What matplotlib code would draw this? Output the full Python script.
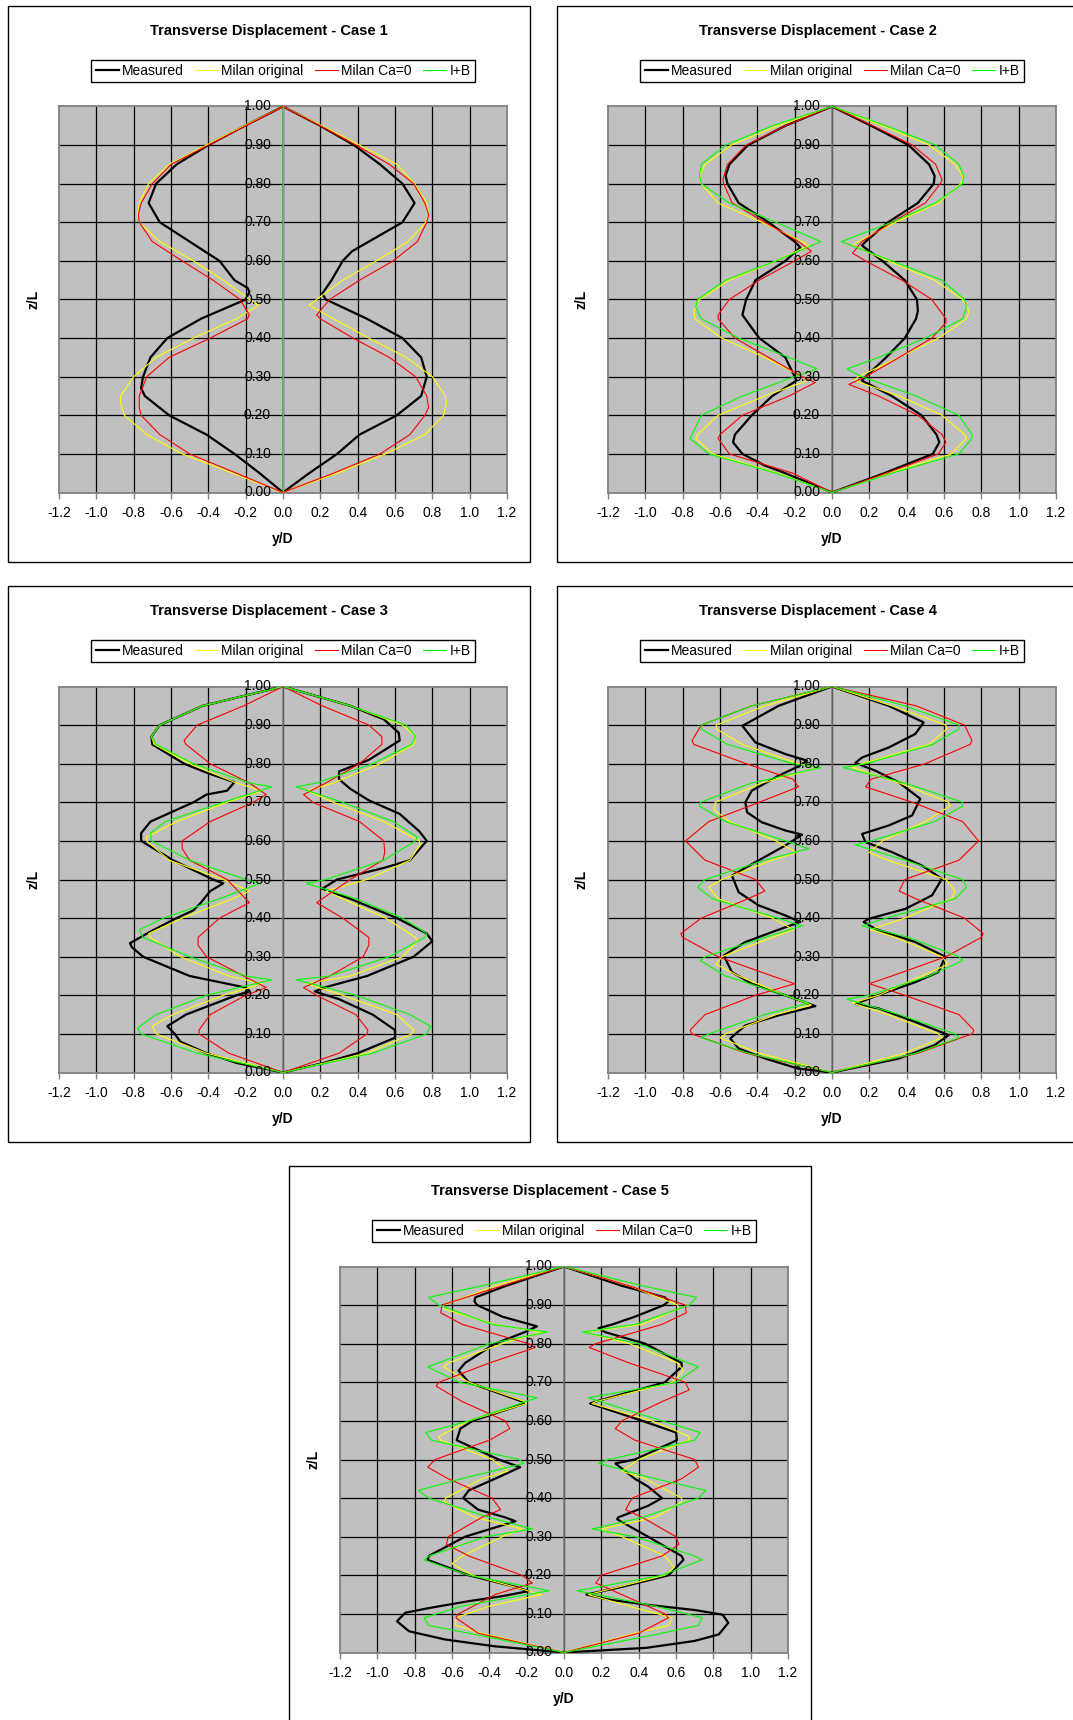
import matplotlib
matplotlib.use('Agg')
import matplotlib.pyplot as plt
import numpy as np
from matplotlib.lines import Line2D
from matplotlib.patches import Rectangle

plt.rcParams['font.family'] = ['Liberation Sans', 'DejaVu Sans']

# ---------------- data: (z/L, y/D) pairs ----------------
SERIES = ["Measured", "Milan original", "Milan Ca=0", "I+B"]
COLORS = ["#000000", "#FFFF00", "#FF0000", "#00FF00"]
XTICKS = [-1.2, -1.0, -0.8, -0.6, -0.4, -0.2, 0.0, 0.2, 0.4, 0.6, 0.8, 1.0, 1.2]
XLABELS = ["-1.2", "-1.0", "-0.8", "-0.6", "-0.4", "-0.2", "0.0", "0.2", "0.4", "0.6", "0.8", "1.0", "1.2"]
YTICKS = [0.0, 0.1, 0.2, 0.3, 0.4, 0.5, 0.6, 0.7, 0.8, 0.9, 1.0]
YLABELS = ["0.00", "0.10", "0.20", "0.30", "0.40", "0.50", "0.60", "0.70", "0.80", "0.90", "1.00"]

# Case 1
C1_MEAS_L = [(0, 0), (0.05, -0.125), (0.10, -0.26), (0.15, -0.41), (0.20, -0.61), (0.25, -0.74), (0.27, -0.76), (0.30, -0.75), (0.35, -0.71), (0.40, -0.62), (0.45, -0.44), (0.50, -0.20), (0.52, -0.18), (0.53, -0.19), (0.55, -0.26), (0.60, -0.34), (0.65, -0.50), (0.70, -0.66), (0.75, -0.72), (0.80, -0.68), (0.85, -0.57), (0.90, -0.40), (0.95, -0.205), (1, 0)]
C1_MEAS_R = [(0, 0), (0.05, 0.14), (0.10, 0.29), (0.15, 0.41), (0.20, 0.61), (0.25, 0.74), (0.30, 0.77), (0.35, 0.74), (0.40, 0.64), (0.45, 0.45), (0.50, 0.23), (0.515, 0.21), (0.55, 0.26), (0.60, 0.32), (0.625, 0.37), (0.65, 0.46), (0.70, 0.64), (0.75, 0.705), (0.80, 0.64), (0.85, 0.52), (0.90, 0.38), (0.95, 0.20), (1, 0)]
C1_MILAN_L = [(0, 0), (0.05, -0.27), (0.10, -0.54), (0.15, -0.73), (0.20, -0.85), (0.23, -0.87), (0.25, -0.87), (0.30, -0.80), (0.35, -0.68), (0.40, -0.48), (0.45, -0.25), (0.485, -0.13), (0.50, -0.18), (0.55, -0.32), (0.60, -0.48), (0.65, -0.66), (0.70, -0.77), (0.72, -0.78), (0.75, -0.77), (0.80, -0.72), (0.85, -0.61), (0.90, -0.41), (0.95, -0.21), (1, 0)]
C1_MILAN_R = [(0, 0), (0.05, 0.29), (0.10, 0.55), (0.15, 0.76), (0.20, 0.86), (0.23, 0.875), (0.25, 0.87), (0.30, 0.80), (0.35, 0.66), (0.40, 0.46), (0.45, 0.27), (0.485, 0.14), (0.50, 0.18), (0.55, 0.32), (0.60, 0.50), (0.65, 0.67), (0.70, 0.765), (0.72, 0.78), (0.75, 0.77), (0.80, 0.705), (0.85, 0.61), (0.90, 0.41), (0.95, 0.21), (1, 0)]
C1_CA0_L = [(0, 0), (0.05, -0.25), (0.10, -0.50), (0.15, -0.66), (0.20, -0.76), (0.22, -0.77), (0.25, -0.77), (0.30, -0.73), (0.35, -0.61), (0.40, -0.39), (0.45, -0.19), (0.46, -0.18), (0.50, -0.23), (0.55, -0.375), (0.60, -0.54), (0.65, -0.70), (0.70, -0.77), (0.72, -0.775), (0.75, -0.76), (0.80, -0.70), (0.85, -0.60), (0.90, -0.40), (0.95, -0.20), (1, 0)]
C1_CA0_R = [(0, 0), (0.05, 0.27), (0.10, 0.52), (0.15, 0.68), (0.20, 0.76), (0.22, 0.78), (0.25, 0.77), (0.30, 0.71), (0.35, 0.57), (0.40, 0.375), (0.45, 0.20), (0.46, 0.18), (0.50, 0.25), (0.55, 0.41), (0.60, 0.59), (0.65, 0.72), (0.70, 0.77), (0.72, 0.78), (0.75, 0.76), (0.80, 0.70), (0.85, 0.57), (0.90, 0.39), (0.95, 0.20), (1, 0)]
C1_IB_L = [(0, 0.0), (0.5, 0.0), (1, 0.0)]
C1_IB_R = [(0, 0.0), (0.5, 0.0), (1, 0.0)]

# Case 2
C2_MEAS_L = [(0, 0), (0.05, -0.25), (0.07, -0.36), (0.10, -0.48), (0.13, -0.53), (0.15, -0.52), (0.20, -0.43), (0.25, -0.32), (0.29, -0.19), (0.30, -0.20), (0.35, -0.25), (0.40, -0.39), (0.46, -0.48), (0.50, -0.46), (0.55, -0.41), (0.60, -0.25), (0.635, -0.17), (0.65, -0.20), (0.70, -0.34), (0.75, -0.50), (0.80, -0.56), (0.82, -0.57), (0.85, -0.55), (0.90, -0.45), (0.95, -0.25), (1, 0)]
C2_MEAS_R = [(0, 0), (0.05, 0.28), (0.10, 0.54), (0.13, 0.575), (0.15, 0.56), (0.20, 0.48), (0.25, 0.32), (0.29, 0.16), (0.30, 0.18), (0.35, 0.29), (0.40, 0.39), (0.45, 0.45), (0.47, 0.46), (0.50, 0.455), (0.55, 0.39), (0.60, 0.27), (0.64, 0.16), (0.65, 0.18), (0.70, 0.30), (0.75, 0.46), (0.80, 0.545), (0.82, 0.55), (0.85, 0.52), (0.90, 0.41), (0.95, 0.21), (1, 0)]
C2_MILAN_L = [(0, 0), (0.05, -0.29), (0.10, -0.64), (0.14, -0.73), (0.15, -0.72), (0.20, -0.61), (0.25, -0.36), (0.29, -0.13), (0.30, -0.16), (0.35, -0.36), (0.40, -0.59), (0.45, -0.735), (0.47, -0.74), (0.50, -0.71), (0.55, -0.55), (0.60, -0.30), (0.64, -0.125), (0.65, -0.16), (0.70, -0.375), (0.75, -0.61), (0.80, -0.70), (0.82, -0.71), (0.85, -0.68), (0.90, -0.54), (0.95, -0.29), (1, 0)]
C2_MILAN_R = [(0, 0), (0.05, 0.30), (0.10, 0.64), (0.14, 0.72), (0.15, 0.71), (0.20, 0.59), (0.25, 0.36), (0.29, 0.12), (0.30, 0.14), (0.35, 0.36), (0.40, 0.57), (0.45, 0.72), (0.47, 0.735), (0.50, 0.70), (0.55, 0.55), (0.60, 0.30), (0.64, 0.11), (0.65, 0.14), (0.70, 0.34), (0.75, 0.57), (0.80, 0.69), (0.82, 0.70), (0.85, 0.66), (0.90, 0.52), (0.95, 0.27), (1, 0)]
C2_CA0_L = [(0, 0), (0.05, -0.21), (0.10, -0.55), (0.14, -0.61), (0.15, -0.60), (0.20, -0.48), (0.25, -0.23), (0.285, -0.09), (0.30, -0.16), (0.35, -0.34), (0.40, -0.52), (0.45, -0.61), (0.46, -0.61), (0.50, -0.55), (0.55, -0.39), (0.60, -0.20), (0.625, -0.11), (0.65, -0.18), (0.70, -0.36), (0.75, -0.535), (0.80, -0.58), (0.81, -0.585), (0.85, -0.56), (0.90, -0.46), (0.95, -0.25), (1, 0)]
C2_CA0_R = [(0, 0), (0.05, 0.29), (0.10, 0.57), (0.13, 0.61), (0.15, 0.59), (0.20, 0.46), (0.25, 0.25), (0.28, 0.09), (0.30, 0.18), (0.35, 0.36), (0.40, 0.535), (0.44, 0.61), (0.45, 0.61), (0.50, 0.535), (0.55, 0.375), (0.60, 0.18), (0.62, 0.11), (0.65, 0.16), (0.70, 0.32), (0.75, 0.50), (0.80, 0.58), (0.81, 0.59), (0.85, 0.555), (0.90, 0.43), (0.95, 0.22), (1, 0)]
C2_IB_L = [(0, 0), (0.05, -0.30), (0.10, -0.66), (0.14, -0.76), (0.15, -0.75), (0.20, -0.70), (0.25, -0.48), (0.30, -0.20), (0.32, -0.08), (0.35, -0.23), (0.40, -0.50), (0.45, -0.70), (0.48, -0.73), (0.50, -0.72), (0.55, -0.57), (0.60, -0.30), (0.65, -0.06), (0.70, -0.30), (0.75, -0.55), (0.80, -0.70), (0.82, -0.71), (0.85, -0.70), (0.90, -0.57), (0.95, -0.32), (1, 0)]
C2_IB_R = [(0, 0), (0.05, 0.32), (0.10, 0.68), (0.14, 0.75), (0.15, 0.75), (0.20, 0.68), (0.25, 0.45), (0.30, 0.16), (0.32, 0.08), (0.35, 0.25), (0.40, 0.50), (0.45, 0.70), (0.48, 0.72), (0.50, 0.71), (0.55, 0.59), (0.60, 0.32), (0.65, 0.05), (0.70, 0.32), (0.75, 0.555), (0.80, 0.70), (0.82, 0.705), (0.85, 0.68), (0.90, 0.555), (0.95, 0.29), (1, 0)]

# Case 3
C3_MEAS_L = [(0, 0), (0.025, -0.25), (0.05, -0.41), (0.08, -0.55), (0.10, -0.58), (0.12, -0.62), (0.15, -0.52), (0.20, -0.25), (0.21, -0.18), (0.22, -0.20), (0.25, -0.50), (0.30, -0.75), (0.325, -0.81), (0.335, -0.82), (0.365, -0.71), (0.40, -0.57), (0.42, -0.48), (0.44, -0.44), (0.47, -0.39), (0.49, -0.32), (0.50, -0.375), (0.55, -0.59), (0.60, -0.76), (0.62, -0.76), (0.65, -0.71), (0.70, -0.48), (0.72, -0.41), (0.73, -0.30), (0.752, -0.26), (0.775, -0.40), (0.80, -0.53), (0.85, -0.70), (0.87, -0.705), (0.90, -0.66), (0.95, -0.43), (1, 0)]
C3_MEAS_R = [(0, 0), (0.025, 0.22), (0.05, 0.40), (0.09, 0.60), (0.11, 0.60), (0.15, 0.48), (0.19, 0.30), (0.21, 0.17), (0.22, 0.22), (0.25, 0.45), (0.30, 0.70), (0.34, 0.80), (0.36, 0.77), (0.40, 0.61), (0.45, 0.36), (0.476, 0.21), (0.50, 0.29), (0.53, 0.54), (0.55, 0.68), (0.60, 0.77), (0.625, 0.73), (0.67, 0.625), (0.705, 0.46), (0.735, 0.36), (0.76, 0.30), (0.78, 0.30), (0.81, 0.46), (0.86, 0.625), (0.88, 0.62), (0.915, 0.54), (0.95, 0.36), (1, 0)]
C3_MILAN_L = [(0, 0), (0.05, -0.41), (0.10, -0.68), (0.12, -0.70), (0.15, -0.59), (0.20, -0.32), (0.23, -0.11), (0.25, -0.29), (0.30, -0.55), (0.35, -0.71), (0.36, -0.72), (0.40, -0.54), (0.45, -0.27), (0.47, -0.18), (0.50, -0.32), (0.55, -0.61), (0.60, -0.73), (0.61, -0.73), (0.65, -0.57), (0.70, -0.30), (0.73, -0.11), (0.75, -0.25), (0.80, -0.50), (0.85, -0.69), (0.87, -0.705), (0.90, -0.66), (0.95, -0.43), (1, 0)]
C3_MILAN_R = [(0, 0), (0.05, 0.45), (0.10, 0.69), (0.11, 0.70), (0.15, 0.61), (0.20, 0.32), (0.23, 0.125), (0.25, 0.36), (0.30, 0.64), (0.34, 0.72), (0.35, 0.71), (0.40, 0.55), (0.45, 0.32), (0.47, 0.23), (0.50, 0.45), (0.55, 0.68), (0.59, 0.735), (0.60, 0.73), (0.65, 0.54), (0.70, 0.27), (0.73, 0.13), (0.75, 0.27), (0.80, 0.52), (0.85, 0.70), (0.87, 0.71), (0.90, 0.64), (0.95, 0.36), (1, 0)]
C3_CA0_L = [(0, 0), (0.05, -0.29), (0.10, -0.45), (0.11, -0.45), (0.15, -0.39), (0.20, -0.20), (0.22, -0.09), (0.25, -0.21), (0.30, -0.41), (0.33, -0.455), (0.35, -0.455), (0.40, -0.34), (0.44, -0.18), (0.50, -0.30), (0.55, -0.50), (0.58, -0.54), (0.60, -0.54), (0.65, -0.39), (0.70, -0.16), (0.72, -0.09), (0.75, -0.18), (0.80, -0.39), (0.85, -0.52), (0.86, -0.53), (0.90, -0.46), (0.95, -0.21), (1, 0)]
C3_CA0_R = [(0, 0), (0.05, 0.30), (0.10, 0.45), (0.11, 0.455), (0.15, 0.39), (0.20, 0.18), (0.22, 0.11), (0.25, 0.25), (0.30, 0.43), (0.33, 0.46), (0.35, 0.46), (0.40, 0.32), (0.44, 0.18), (0.50, 0.36), (0.55, 0.535), (0.57, 0.545), (0.60, 0.54), (0.65, 0.41), (0.70, 0.16), (0.72, 0.11), (0.75, 0.23), (0.80, 0.41), (0.85, 0.53), (0.87, 0.53), (0.90, 0.46), (0.95, 0.21), (1, 0)]
C3_IB_L = [(0, 0), (0.05, -0.46), (0.10, -0.76), (0.115, -0.78), (0.15, -0.68), (0.20, -0.41), (0.24, -0.06), (0.25, -0.20), (0.30, -0.50), (0.35, -0.75), (0.37, -0.77), (0.40, -0.64), (0.45, -0.34), (0.49, -0.125), (0.50, -0.20), (0.55, -0.50), (0.60, -0.705), (0.62, -0.71), (0.65, -0.63), (0.70, -0.32), (0.74, -0.06), (0.75, -0.18), (0.80, -0.48), (0.85, -0.68), (0.87, -0.705), (0.90, -0.66), (0.95, -0.43), (1, 0)]
C3_IB_R = [(0, 0), (0.05, 0.48), (0.10, 0.77), (0.12, 0.79), (0.15, 0.68), (0.20, 0.39), (0.24, 0.07), (0.25, 0.25), (0.30, 0.57), (0.35, 0.76), (0.36, 0.77), (0.40, 0.64), (0.45, 0.39), (0.49, 0.125), (0.50, 0.23), (0.55, 0.54), (0.60, 0.71), (0.61, 0.72), (0.65, 0.59), (0.70, 0.32), (0.74, 0.07), (0.75, 0.18), (0.80, 0.48), (0.85, 0.69), (0.87, 0.71), (0.90, 0.66), (0.95, 0.36), (1, 0)]

# Case 4
C4_MEAS_L = [(0, 0), (0.01, -0.18), (0.036, -0.357), (0.062, -0.50), (0.088, -0.545), (0.122, -0.464), (0.148, -0.286), (0.172, -0.089), (0.20, -0.25), (0.23, -0.43), (0.26, -0.536), (0.303, -0.58), (0.338, -0.464), (0.364, -0.32), (0.39, -0.17), (0.407, -0.25), (0.433, -0.393), (0.467, -0.50), (0.51, -0.536), (0.545, -0.41), (0.588, -0.25), (0.616, -0.16), (0.627, -0.25), (0.648, -0.375), (0.674, -0.455), (0.70, -0.464), (0.73, -0.43), (0.769, -0.286), (0.793, -0.18), (0.808, -0.134), (0.825, -0.25), (0.855, -0.41), (0.898, -0.48), (0.95, -0.286), (1, 0)]
C4_MEAS_R = [(0, 0), (0.036, 0.357), (0.071, 0.55), (0.097, 0.625), (0.131, 0.446), (0.166, 0.25), (0.178, 0.125), (0.204, 0.268), (0.234, 0.446), (0.26, 0.57), (0.30, 0.607), (0.338, 0.446), (0.372, 0.232), (0.39, 0.17), (0.398, 0.196), (0.424, 0.393), (0.459, 0.536), (0.502, 0.589), (0.536, 0.482), (0.571, 0.321), (0.597, 0.179), (0.618, 0.161), (0.64, 0.304), (0.666, 0.429), (0.709, 0.473), (0.752, 0.357), (0.782, 0.232), (0.802, 0.125), (0.816, 0.161), (0.842, 0.304), (0.877, 0.446), (0.907, 0.491), (0.95, 0.304), (1, 0)]
C4_MILAN_L = [(0, 0), (0.05, -0.39), (0.09, -0.60), (0.10, -0.57), (0.15, -0.30), (0.175, -0.11), (0.20, -0.25), (0.25, -0.50), (0.28, -0.62), (0.30, -0.59), (0.35, -0.32), (0.37, -0.205), (0.40, -0.32), (0.45, -0.61), (0.48, -0.66), (0.50, -0.59), (0.55, -0.32), (0.57, -0.19), (0.60, -0.30), (0.65, -0.55), (0.68, -0.63), (0.70, -0.625), (0.75, -0.375), (0.79, -0.07), (0.80, -0.18), (0.85, -0.48), (0.89, -0.62), (0.90, -0.62), (0.95, -0.36), (1, 0)]
C4_MILAN_R = [(0, 0), (0.05, 0.39), (0.09, 0.59), (0.10, 0.57), (0.15, 0.30), (0.18, 0.11), (0.20, 0.25), (0.25, 0.48), (0.28, 0.62), (0.30, 0.59), (0.35, 0.34), (0.37, 0.205), (0.40, 0.39), (0.45, 0.64), (0.47, 0.66), (0.50, 0.61), (0.55, 0.30), (0.57, 0.20), (0.60, 0.27), (0.65, 0.50), (0.69, 0.63), (0.70, 0.625), (0.75, 0.36), (0.79, 0.11), (0.80, 0.16), (0.85, 0.52), (0.89, 0.615), (0.90, 0.61), (0.95, 0.32), (1, 0)]
C4_CA0_L = [(0, 0), (0.05, -0.46), (0.10, -0.75), (0.11, -0.76), (0.15, -0.68), (0.20, -0.41), (0.23, -0.20), (0.25, -0.32), (0.30, -0.61), (0.35, -0.80), (0.36, -0.81), (0.40, -0.70), (0.45, -0.45), (0.47, -0.36), (0.50, -0.41), (0.55, -0.68), (0.60, -0.785), (0.65, -0.66), (0.70, -0.39), (0.74, -0.18), (0.76, -0.21), (0.80, -0.46), (0.85, -0.74), (0.86, -0.75), (0.90, -0.70), (0.95, -0.43), (1, 0)]
C4_CA0_R = [(0, 0), (0.05, 0.46), (0.10, 0.75), (0.11, 0.76), (0.15, 0.68), (0.20, 0.39), (0.23, 0.20), (0.25, 0.32), (0.30, 0.61), (0.35, 0.80), (0.36, 0.81), (0.40, 0.71), (0.45, 0.45), (0.47, 0.36), (0.50, 0.39), (0.55, 0.68), (0.60, 0.785), (0.65, 0.70), (0.70, 0.43), (0.74, 0.18), (0.76, 0.21), (0.80, 0.50), (0.85, 0.74), (0.86, 0.75), (0.90, 0.71), (0.95, 0.45), (1, 0)]
C4_IB_L = [(0, 0), (0.05, -0.45), (0.09, -0.70), (0.10, -0.66), (0.15, -0.36), (0.18, -0.125), (0.20, -0.25), (0.25, -0.57), (0.29, -0.705), (0.30, -0.68), (0.35, -0.36), (0.38, -0.16), (0.40, -0.29), (0.45, -0.64), (0.48, -0.72), (0.50, -0.68), (0.55, -0.36), (0.58, -0.125), (0.60, -0.25), (0.65, -0.57), (0.69, -0.71), (0.70, -0.705), (0.75, -0.43), (0.79, -0.06), (0.80, -0.21), (0.85, -0.56), (0.89, -0.70), (0.90, -0.70), (0.95, -0.43), (1, 0)]
C4_IB_R = [(0, 0), (0.05, 0.45), (0.09, 0.68), (0.10, 0.66), (0.15, 0.36), (0.19, 0.08), (0.20, 0.20), (0.25, 0.52), (0.29, 0.70), (0.30, 0.68), (0.35, 0.41), (0.38, 0.16), (0.40, 0.29), (0.45, 0.66), (0.48, 0.72), (0.50, 0.70), (0.55, 0.39), (0.59, 0.125), (0.60, 0.21), (0.65, 0.55), (0.69, 0.70), (0.70, 0.70), (0.75, 0.39), (0.79, 0.06), (0.80, 0.18), (0.85, 0.54), (0.89, 0.68), (0.90, 0.68), (0.95, 0.39), (1, 0)]

# Case 5
C5_MEAS_L = [(0, 0), (0.016, -0.37), (0.034, -0.64), (0.055, -0.83), (0.081, -0.895), (0.103, -0.85), (0.115, -0.725), (0.133, -0.51), (0.146, -0.33), (0.159, -0.19), (0.17, -0.26), (0.20, -0.51), (0.24, -0.73), (0.25, -0.725), (0.30, -0.53), (0.34, -0.26), (0.35, -0.315), (0.37, -0.46), (0.40, -0.54), (0.42, -0.51), (0.45, -0.37), (0.48, -0.235), (0.50, -0.35), (0.55, -0.575), (0.58, -0.555), (0.60, -0.49), (0.645, -0.21), (0.65, -0.225), (0.70, -0.51), (0.73, -0.565), (0.75, -0.53), (0.80, -0.37), (0.83, -0.21), (0.845, -0.145), (0.87, -0.33), (0.90, -0.465), (0.91, -0.48), (0.92, -0.475), (0.95, -0.31), (1, 0)]
C5_MEAS_R = [(0, 0), (0.012, 0.44), (0.03, 0.70), (0.047, 0.83), (0.077, 0.88), (0.098, 0.85), (0.11, 0.70), (0.124, 0.44), (0.137, 0.24), (0.15, 0.12), (0.17, 0.31), (0.20, 0.56), (0.24, 0.64), (0.25, 0.63), (0.30, 0.45), (0.345, 0.285), (0.35, 0.29), (0.38, 0.45), (0.40, 0.525), (0.43, 0.45), (0.45, 0.38), (0.49, 0.275), (0.50, 0.38), (0.55, 0.605), (0.57, 0.60), (0.60, 0.42), (0.645, 0.14), (0.65, 0.17), (0.70, 0.54), (0.74, 0.63), (0.75, 0.63), (0.80, 0.435), (0.83, 0.22), (0.84, 0.185), (0.85, 0.26), (0.87, 0.38), (0.90, 0.535), (0.91, 0.56), (0.92, 0.54), (0.95, 0.31), (1, 0)]
C5_MILAN_L = [(0, 0), (0.05, -0.44), (0.07, -0.58), (0.09, -0.58), (0.12, -0.40), (0.15, -0.12), (0.20, -0.49), (0.23, -0.60), (0.25, -0.545), (0.30, -0.33), (0.32, -0.225), (0.35, -0.475), (0.39, -0.64), (0.40, -0.635), (0.45, -0.44), (0.47, -0.30), (0.50, -0.385), (0.55, -0.66), (0.56, -0.67), (0.60, -0.51), (0.645, -0.20), (0.65, -0.21), (0.70, -0.51), (0.74, -0.645), (0.75, -0.62), (0.80, -0.33), (0.83, -0.12), (0.85, -0.37), (0.89, -0.645), (0.90, -0.645), (0.95, -0.37), (1, 0)]
C5_MILAN_R = [(0, 0), (0.05, 0.38), (0.07, 0.56), (0.09, 0.58), (0.12, 0.35), (0.15, 0.13), (0.20, 0.54), (0.22, 0.59), (0.25, 0.54), (0.30, 0.31), (0.32, 0.20), (0.35, 0.49), (0.39, 0.63), (0.40, 0.63), (0.45, 0.435), (0.47, 0.31), (0.50, 0.40), (0.55, 0.67), (0.56, 0.67), (0.60, 0.47), (0.645, 0.15), (0.65, 0.17), (0.70, 0.58), (0.73, 0.64), (0.75, 0.61), (0.80, 0.35), (0.83, 0.11), (0.85, 0.42), (0.89, 0.61), (0.90, 0.61), (0.95, 0.35), (1, 0)]
C5_CA0_L = [(0, 0), (0.05, -0.46), (0.09, -0.58), (0.10, -0.565), (0.15, -0.37), (0.18, -0.17), (0.20, -0.225), (0.25, -0.51), (0.28, -0.63), (0.30, -0.62), (0.35, -0.44), (0.37, -0.34), (0.40, -0.385), (0.45, -0.62), (0.48, -0.73), (0.50, -0.69), (0.55, -0.40), (0.58, -0.29), (0.60, -0.315), (0.65, -0.545), (0.69, -0.685), (0.70, -0.67), (0.75, -0.40), (0.79, -0.155), (0.80, -0.19), (0.85, -0.545), (0.88, -0.66), (0.90, -0.655), (0.95, -0.33), (1, 0)]
C5_CA0_R = [(0, 0), (0.05, 0.40), (0.09, 0.56), (0.10, 0.54), (0.15, 0.31), (0.18, 0.17), (0.20, 0.20), (0.25, 0.525), (0.28, 0.615), (0.30, 0.60), (0.35, 0.42), (0.37, 0.33), (0.40, 0.365), (0.45, 0.63), (0.48, 0.72), (0.50, 0.70), (0.55, 0.38), (0.58, 0.275), (0.60, 0.31), (0.65, 0.525), (0.68, 0.67), (0.70, 0.65), (0.75, 0.35), (0.79, 0.135), (0.80, 0.17), (0.85, 0.525), (0.88, 0.655), (0.90, 0.65), (0.95, 0.35), (1, 0)]
C5_IB_L = [(0, 0), (0.05, -0.51), (0.07, -0.725), (0.09, -0.75), (0.12, -0.55), (0.16, -0.08), (0.20, -0.51), (0.24, -0.75), (0.25, -0.725), (0.30, -0.42), (0.32, -0.17), (0.35, -0.40), (0.40, -0.725), (0.42, -0.78), (0.45, -0.55), (0.49, -0.215), (0.50, -0.24), (0.55, -0.71), (0.57, -0.74), (0.60, -0.51), (0.66, -0.145), (0.70, -0.56), (0.74, -0.73), (0.80, -0.40), (0.83, -0.09), (0.85, -0.385), (0.90, -0.67), (0.92, -0.725), (0.95, -0.44), (1, 0)]
C5_IB_R = [(0, 0), (0.05, 0.525), (0.07, 0.72), (0.09, 0.74), (0.12, 0.49), (0.16, 0.07), (0.20, 0.525), (0.24, 0.74), (0.25, 0.70), (0.30, 0.38), (0.32, 0.15), (0.35, 0.42), (0.40, 0.72), (0.42, 0.76), (0.45, 0.49), (0.49, 0.185), (0.50, 0.24), (0.55, 0.70), (0.57, 0.73), (0.60, 0.525), (0.66, 0.13), (0.70, 0.60), (0.74, 0.72), (0.80, 0.40), (0.83, 0.10), (0.85, 0.38), (0.90, 0.67), (0.92, 0.71), (0.95, 0.42), (1, 0)]

CASES = [
    ("1", [(C1_MEAS_L, C1_MEAS_R), (C1_MILAN_L, C1_MILAN_R), (C1_CA0_L, C1_CA0_R), (C1_IB_L, C1_IB_R)]),
    ("2", [(C2_MEAS_L, C2_MEAS_R), (C2_MILAN_L, C2_MILAN_R), (C2_CA0_L, C2_CA0_R), (C2_IB_L, C2_IB_R)]),
    ("3", [(C3_MEAS_L, C3_MEAS_R), (C3_MILAN_L, C3_MILAN_R), (C3_CA0_L, C3_CA0_R), (C3_IB_L, C3_IB_R)]),
    ("4", [(C4_MEAS_L, C4_MEAS_R), (C4_MILAN_L, C4_MILAN_R), (C4_CA0_L, C4_CA0_R), (C4_IB_L, C4_IB_R)]),
    ("5", [(C5_MEAS_L, C5_MEAS_R), (C5_MILAN_L, C5_MILAN_R), (C5_CA0_L, C5_CA0_R), (C5_IB_L, C5_IB_R)]),
]

# ---------------- layout ----------------
W, H = 1073, 1720
fig = plt.figure(figsize=(W / 100, H / 100), dpi=100)
fig.patch.set_facecolor('white')

BOX_POS = [(8, 6), (557, 6), (8, 586), (557, 586), (289, 1166)]
BOX_W, BOX_H = 522, 556
PL_DX, PL_DY, PL_W, PL_H = 51, 100.5, 448, 386
LWS = [1.6, 0.8, 0.8, 0.8]
FS = 10

for (bx, by), (case, curves) in zip(BOX_POS, CASES):
    fig.add_artist(Rectangle((bx / W, 1 - (by + BOX_H) / H), BOX_W / W, BOX_H / H,
                             transform=fig.transFigure, fill=False, ec='black', lw=1.0))
    px, py = bx + PL_DX, by + PL_DY
    cx = px + PL_W / 2
    ax = fig.add_axes([px / W, 1 - (py + PL_H) / H, PL_W / W, PL_H / H])
    ax.set_facecolor('#C0C0C0')
    ax.set_xlim(-1.2, 1.2)
    ax.set_ylim(0, 1)
    for v in XTICKS[1:-1]:
        ax.axvline(v, color='black', lw=0.9, zorder=1)
    for v in YTICKS[1:-1]:
        ax.axhline(v, color='black', lw=0.9, zorder=1)
    ax.axvline(0, color='#808080', lw=1.1, zorder=1.5)
    for s in ax.spines.values():
        s.set_color('#808080')
        s.set_linewidth(1.3)
    ax.set_xticks(XTICKS)
    ax.set_xticklabels(XLABELS, fontsize=FS)
    ax.tick_params(axis='x', direction='out', length=4, width=1, color='#808080', pad=6)
    ax.set_yticks([])
    for v, lab in zip(YTICKS, YLABELS):
        ax.text(-0.064, v, lab, ha='right', va='center', fontsize=FS, zorder=6)

    for i in range(4):
        left, right = curves[i]
        for side in (left, right):
            arr = np.array(side, dtype=float)
            ax.plot(arr[:, 1], arr[:, 0], color=COLORS[i], lw=LWS[i], zorder=3 + i * 0.1,
                    solid_joinstyle='round')

    fig.text((bx + BOX_W / 2) / W, 1 - (by + 25) / H, "Transverse Displacement - Case " + case,
             ha='center', va='center', fontsize=10.5, fontweight='bold')
    handles = [Line2D([], [], color=COLORS[i], lw=LWS[i]) for i in range(4)]
    leg = fig.legend(handles, SERIES, loc='center', bbox_to_anchor=(cx / W, 1 - (by + 65) / H),
                     ncol=4, fontsize=FS, frameon=True, fancybox=False, edgecolor='black',
                     framealpha=1, handlelength=1.65, handletextpad=0.25, columnspacing=0.8,
                     borderpad=0.3, borderaxespad=0)
    leg.get_frame().set_linewidth(1.0)
    fig.text(cx / W, 1 - (by + 533) / H, "y/D", ha='center', va='center', fontsize=FS, fontweight='bold')
    fig.text((bx + 25) / W, 1 - (py + PL_H / 2) / H, "z/L", ha='center', va='center',
             rotation=90, fontsize=FS, fontweight='bold')

fig.savefig('out.png', dpi=100)
